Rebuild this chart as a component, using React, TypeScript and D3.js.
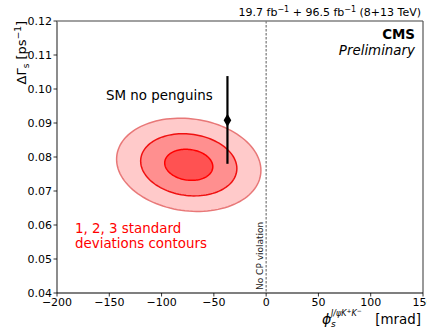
import React from "react";
import * as d3 from "d3";

const xTicks = [-200, -150, -100, -50, 0, 50, 100, 150];
const yTicks = [0.04, 0.05, 0.06, 0.07, 0.08, 0.09, 0.1, 0.11, 0.12];
const xDomain = [-200, 150];
const yDomain = [0.04, 0.12];

// fit result (2D gaussian)
const fitCenter = [-74, 0.0777];
const fitSigma = [23, 0.00457];
const fitRho = -0.12;
const contourLevels = [3, 2, 1];
const contourFills = ["#ffcaca", "#ff8f8f", "#ff5252"];
const contourStrokes = ["#e87878", "#f01010", "#ff0000"];

// SM prediction
const smPoint = [-37, 0.0908];
const smErr = [0.0128, 0.013]; // down, up

const W = 427, H = 329;
const M = { left: 57, right: 423, top: 21, bottom: 293 };
const FONT = "DejaVu Sans, sans-serif";

export default function App() {
  const x = d3.scaleLinear().domain(xDomain).range([M.left, M.right]);
  const y = d3.scaleLinear().domain(yDomain).range([M.bottom, M.top]);

  const angles = d3.range(0, 361, 3).map((a) => (a * Math.PI) / 180);
  const line = d3.line<[number, number]>().x((d) => x(d[0])).y((d) => y(d[1]));
  const ellipse = (n: number) =>
    line(
      angles.map((t) => [
        fitCenter[0] + n * fitSigma[0] * Math.cos(t),
        fitCenter[1] +
          n * fitSigma[1] * (fitRho * Math.cos(t) + Math.sqrt(1 - fitRho * fitRho) * Math.sin(t)),
      ]) as [number, number][]
    ) + "Z";

  const sx = x(smPoint[0]), sy = y(smPoint[1]);

  return (
    <svg width={W} height={H} style={{ position: "absolute", left: 0, top: 0 }} fontFamily={FONT}>
      <rect width={W} height={H} fill="white" />
      {contourLevels.map((n, i) => (
        <path key={n} d={ellipse(n)} fill={contourFills[i]} stroke={contourStrokes[i]} strokeWidth={1.5} />
      ))}
      {/* No CP violation line */}
      <line x1={x(0)} x2={x(0)} y1={M.top} y2={M.bottom} stroke="#777" strokeWidth={1.2} strokeDasharray="2.5,1.5" />
      <text transform={`translate(${x(0) - 3},${M.bottom - 3}) rotate(-90)`} fontSize={9} fill="#222">No CP violation</text>
      {/* SM point */}
      <line x1={sx} x2={sx} y1={y(smPoint[1] - smErr[0])} y2={y(smPoint[1] + smErr[1])} stroke="black" strokeWidth={2.2} />
      <path d={d3.symbol().type(d3.symbolDiamond).size(50)()!} transform={`translate(${sx},${sy})`} fill="black" />
      <text x={106} y={100} fontSize={13.4} fill="black">SM no penguins</text>
      <text x={75} y={233} fontSize={13.4} fill="#ff0000">1, 2, 3 standard</text>
      <text x={75} y={248} fontSize={13.4} fill="#ff0000">deviations contours</text>
      {/* spines */}
      <line x1={M.left} x2={M.right} y1={M.top} y2={M.top} stroke="#808080" strokeWidth={1.5} />
      <line x1={M.left} x2={M.left} y1={M.top} y2={M.bottom} stroke="#808080" strokeWidth={1.8} />
      <line x1={M.right} x2={M.right} y1={M.top} y2={M.bottom} stroke="#555" strokeWidth={1.2} />
      <line x1={M.left} x2={M.right} y1={M.bottom} y2={M.bottom} stroke="black" strokeWidth={1.2} />
      {/* ticks */}
      {xTicks.map((t) => (
        <g key={t}>
          <line x1={x(t)} x2={x(t)} y1={M.bottom} y2={M.bottom + 3.5} stroke="black" strokeWidth={0.8} />
          <text x={x(t)} y={M.bottom + 13} fontSize={11} textAnchor="middle" fill="black">
            {t < 0 ? "\u2212" + Math.abs(t) : t}
          </text>
        </g>
      ))}
      {yTicks.map((t) => (
        <g key={t}>
          <line x1={M.left} x2={M.left - 3.5} y1={y(t)} y2={y(t)} stroke="black" strokeWidth={0.8} />
          <text x={M.left - 5} y={y(t) + 4} fontSize={11} textAnchor="end" fill="black">
            {t.toFixed(2)}
          </text>
        </g>
      ))}
      {/* labels */}
      <text x={421} y={16} fontSize={11} textAnchor="end" fill="black">
        19.7 fb<tspan dy={-4} fontSize={8}>−1</tspan>
        <tspan dy={4}> + 96.5 fb</tspan>
        <tspan dy={-4} fontSize={8}>−1</tspan>
        <tspan dy={4}> (8+13 TeV)</tspan>
      </text>
      <text x={415} y={39} fontSize={13.4} fontWeight="bold" textAnchor="end" fill="black">CMS</text>
      <text x={415} y={55} fontSize={13.4} fontStyle="italic" textAnchor="end" fill="black">Preliminary</text>
      <text transform={`translate(26,${M.top}) rotate(-90)`} fontSize={13} textAnchor="end" fill="black">
        ΔΓ<tspan dy={3} fontSize={9}>s</tspan>
        <tspan dy={-3}> [ps</tspan>
        <tspan dy={-5} fontSize={9}>−1</tspan>
        <tspan dy={5}>]</tspan>
      </text>
      <g fill="black">
        <text x={322} y={324} fontSize={14} fontStyle="italic">ϕ</text>
        <text x={331} y={327} fontSize={9} fontStyle="italic">s</text>
        <text x={331} y={316} fontSize={8} fontStyle="italic">
          J/ψK<tspan dy={-3} fontSize={6}>+</tspan>
          <tspan dy={3}>K</tspan>
          <tspan dy={-3} fontSize={6}>−</tspan>
        </text>
        <text x={421} y={324} fontSize={13.4} textAnchor="end">[mrad]</text>
      </g>
    </svg>
  );
}
